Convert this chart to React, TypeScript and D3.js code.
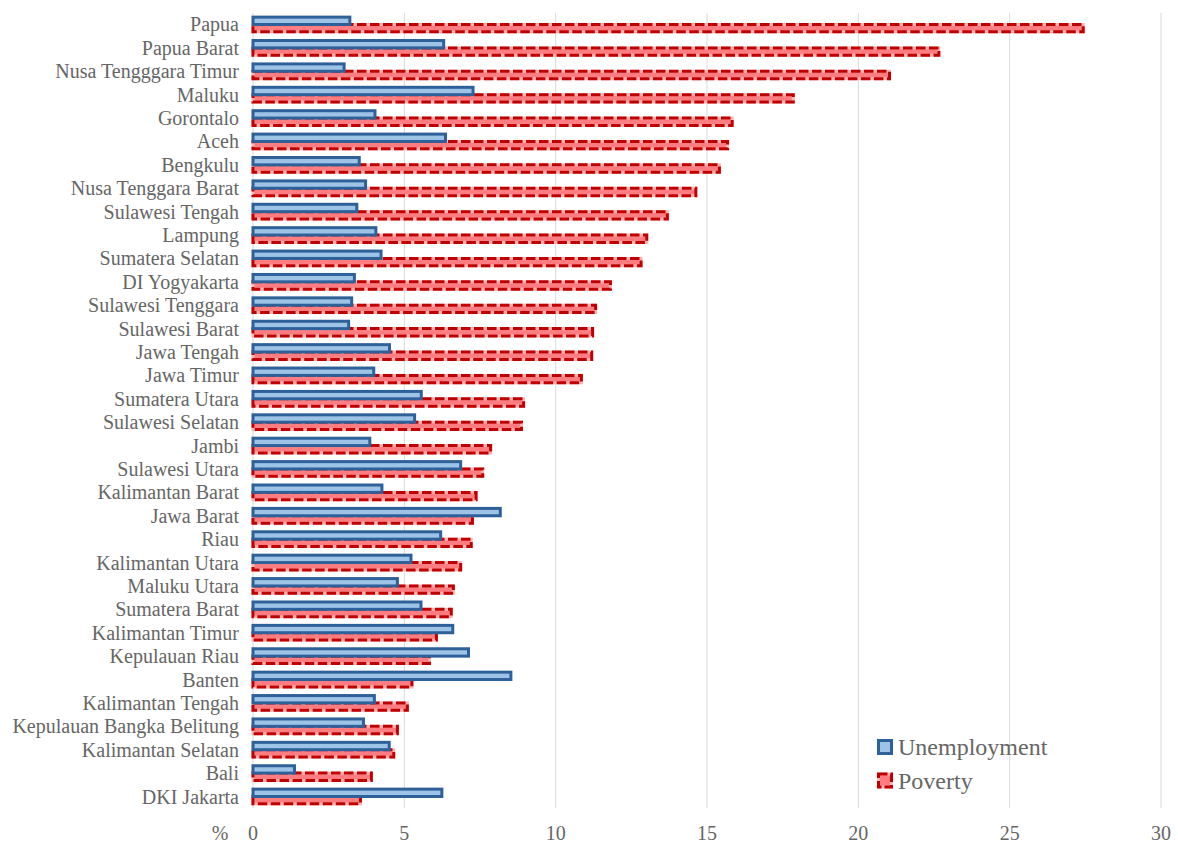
import React from "react";
import * as d3 from "d3";

const categories = [
  "Papua", "Papua Barat", "Nusa Tengggara Timur", "Maluku", "Gorontalo", "Aceh", "Bengkulu",
  "Nusa Tenggara Barat", "Sulawesi Tengah", "Lampung", "Sumatera Selatan", "DI Yogyakarta",
  "Sulawesi Tenggara", "Sulawesi Barat", "Jawa Tengah", "Jawa Timur", "Sumatera Utara",
  "Sulawesi Selatan", "Jambi", "Sulawesi Utara", "Kalimantan Barat", "Jawa Barat", "Riau",
  "Kalimantan Utara", "Maluku Utara", "Sumatera Barat", "Kalimantan Timur", "Kepulauan Riau",
  "Banten", "Kalimantan Tengah", "Kepulauan Bangka Belitung", "Kalimantan Selatan", "Bali",
  "DKI Jakarta",
];

const unemployment = [
  3.2, 6.3, 3.01, 7.27, 4.03, 6.36, 3.51, 3.72, 3.43, 4.06, 4.23, 3.35, 3.26, 3.16, 4.51, 3.99,
  5.56, 5.34, 3.86, 6.86, 4.26, 8.17, 6.2, 5.22, 4.77, 5.55, 6.6, 7.12, 8.52, 4.01, 3.65, 4.5,
  1.37, 6.24,
];

const poverty = [
  27.43, 22.66, 21.03, 17.85, 15.83, 15.68, 15.41, 14.63, 13.69, 13.01, 12.82, 11.81, 11.32,
  11.22, 11.19, 10.85, 8.94, 8.87, 7.85, 7.59, 7.37, 7.25, 7.21, 6.86, 6.62, 6.55, 6.06, 5.83,
  5.25, 5.1, 4.77, 4.65, 3.91, 3.55,
];

const seriesNames = ["Unemployment", "Poverty"];
const xTicks = [0, 5, 10, 15, 20, 25, 30];

const W = 1178;
const H = 845;
const FONT = "'Liberation Serif', 'Times New Roman', serif";
const TEXT = "#666666";
const BLUE_FILL = "#9DC3E6";
const BLUE_STROKE = "#2E6099";
const RED_FILL = "#FF7C80";
const RED_STROKE = "#C00000";

export default function App() {
  const x = d3.scaleLinear().domain([0, 30]).range([253, 1161]);
  const y = d3
    .scaleBand<string>()
    .domain(categories)
    .range([12.8, 808.2])
    .paddingInner(0.37)
    .paddingOuter(0.185);
  const ys = d3.scaleBand<string>().domain(seriesNames).range([0, y.bandwidth()]);
  const bh = ys.bandwidth();
  const plotTop = 12.8;
  const plotBottom = 808.2;

  return (
    <svg
      width={W}
      height={H}
      style={{ position: "absolute", left: 0, top: 0, background: "#fff" }}
      fontFamily={FONT}
    >
      {xTicks.map((t) => (
        <line
          key={"g" + t}
          x1={x(t)}
          x2={x(t)}
          y1={plotTop}
          y2={plotBottom}
          stroke="#D9D9D9"
          strokeWidth={1}
        />
      ))}

      {categories.map((c, i) => {
        const y0 = (y(c) ?? 0) + (ys("Poverty") ?? 0);
        const w = x(poverty[i]) - x(0);
        return (
          <g key={"p" + c}>
            <rect x={x(0)} y={y0} width={w} height={bh} fill={RED_FILL} stroke="#FFB3B5" strokeWidth={3} />
            <rect
              x={x(0)}
              y={y0}
              width={w}
              height={bh}
              fill="none"
              stroke={RED_STROKE}
              strokeWidth={3}
              strokeDasharray="9.5,3.5"
            />
          </g>
        );
      })}

      {categories.map((c, i) => {
        const y0 = (y(c) ?? 0) + (ys("Unemployment") ?? 0);
        const w = x(unemployment[i]) - x(0);
        return (
          <rect
            key={"u" + c}
            x={x(0)}
            y={y0}
            width={w}
            height={bh}
            fill={BLUE_FILL}
            stroke={BLUE_STROKE}
            strokeWidth={3}
          />
        );
      })}

      {categories.map((c) => (
        <text
          key={"l" + c}
          x={239}
          y={(y(c) ?? 0) + y.bandwidth() / 2}
          textAnchor="end"
          dominantBaseline="central"
          fontSize={20}
          fill={TEXT}
        >
          {c}
        </text>
      ))}

      {xTicks.map((t) => (
        <text
          key={"t" + t}
          x={x(t)}
          y={833}
          textAnchor="middle"
          dominantBaseline="central"
          fontSize={20}
          fill={TEXT}
        >
          {t}
        </text>
      ))}
      <text x={220} y={833} textAnchor="middle" dominantBaseline="central" fontSize={20} fill={TEXT}>
        %
      </text>

      <g>
        <rect x={878.5} y={740.5} width={13} height={13} fill={BLUE_FILL} stroke={BLUE_STROKE} strokeWidth={3} />
        <text x={898} y={747} dominantBaseline="central" fontSize={24} fill={TEXT}>
          {seriesNames[0]}
        </text>
        <rect x={878.5} y={774} width={13} height={13} fill={RED_FILL} stroke="#FFB3B5" strokeWidth={3} />
        <rect
          x={878.5}
          y={774}
          width={13}
          height={13}
          fill="none"
          stroke={RED_STROKE}
          strokeWidth={3}
          strokeDasharray="9,3"
        />
        <text x={898} y={780.5} dominantBaseline="central" fontSize={24} fill={TEXT}>
          {seriesNames[1]}
        </text>
      </g>
    </svg>
  );
}
